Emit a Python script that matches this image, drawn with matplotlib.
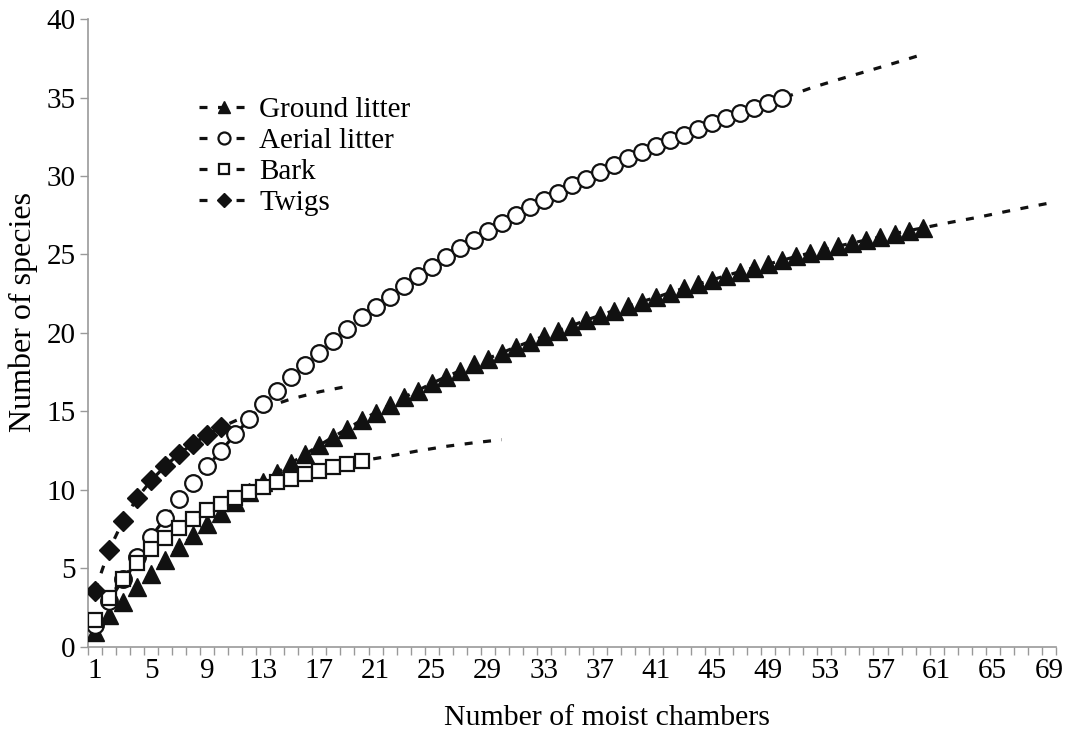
import matplotlib
matplotlib.use("Agg")
import matplotlib.pyplot as plt
from matplotlib.lines import Line2D
import numpy as np

# observed accumulation values (number of moist chambers = 1..n)
ground_litter = [0.92, 2.0, 2.87, 3.78, 4.67, 5.52, 6.33, 7.1, 7.82, 8.54,
                 9.24, 9.87, 10.51, 11.1, 11.72, 12.27, 12.85, 13.38, 13.91, 14.44,
                 14.93, 15.42, 15.89, 16.33, 16.78, 17.2, 17.58, 17.99, 18.37, 18.73,
                 19.11, 19.45, 19.79, 20.13, 20.47, 20.81, 21.12, 21.43, 21.7, 22.0,
                 22.27, 22.57, 22.85, 23.12, 23.38, 23.66, 23.91, 24.16, 24.39, 24.63,
                 24.88, 25.1, 25.31, 25.54, 25.73, 25.93, 26.11, 26.33, 26.52, 26.69]
aerial_litter = [1.4, 2.9, 4.3, 5.7, 7.0, 8.2, 9.4, 10.45, 11.5, 12.5,
                 13.55, 14.5, 15.45, 16.3, 17.2, 17.96, 18.75, 19.5, 20.25, 21.0,
                 21.66, 22.32, 23.0, 23.63, 24.23, 24.82, 25.39, 25.95, 26.48, 27.0,
                 27.5, 28.0, 28.45, 28.94, 29.41, 29.83, 30.25, 30.7, 31.13, 31.53,
                 31.91, 32.27, 32.64, 33.02, 33.38, 33.69, 34.01, 34.33, 34.65, 34.95]
bark = [1.7, 3.12, 4.35, 5.35, 6.22, 6.92, 7.56, 8.15, 8.69, 9.11,
        9.51, 9.85, 10.19, 10.49, 10.72, 10.98, 11.21, 11.45, 11.66, 11.85]
twigs = [3.57, 6.16, 8.03, 9.47, 10.6, 11.51, 12.3, 12.95, 13.5, 14.0]

# extrapolated part of each curve (dashed)
ground_ext_x = [62, 64, 66, 68, 69]
ground_ext_y = [27.05, 27.38, 27.75, 28.1, 28.27]
aerial_ext_x = [52, 54, 56, 58, 60]
aerial_ext_y = [35.6, 36.15, 36.67, 37.2, 37.75]
bark_ext_x = [22, 24, 26, 28, 30]
bark_ext_y = [12.15, 12.48, 12.77, 13.0, 13.2]
twigs_ext_x = [11, 13, 15, 17, 19]
twigs_ext_y = [14.4, 15.2, 15.8, 16.25, 16.6]

xtick_labels = list(range(1, 70, 4))

plt.rcParams['font.family'] = ['Liberation Serif', 'DejaVu Serif']

fig = plt.figure(figsize=(10.73, 7.35), dpi=100)
ax = fig.add_axes([0.082, 0.12, 0.902, 0.854])

DASH = (0, (2.5, 3.3))
LW = 2.3

series = [
    ("Ground litter", ground_litter, ground_ext_x, ground_ext_y,
     dict(marker="^", markersize=12.5, markerfacecolor="#111111", markeredgecolor="#111111")),
    ("Aerial litter", aerial_litter, aerial_ext_x, aerial_ext_y,
     dict(marker="o", markersize=12, markerfacecolor="white", markeredgecolor="#111111", markeredgewidth=1.6)),
    ("Bark", bark, bark_ext_x, bark_ext_y,
     dict(marker="s", markersize=10.5, markerfacecolor="white", markeredgecolor="#111111", markeredgewidth=1.6)),
    ("Twigs", twigs, twigs_ext_x, twigs_ext_y,
     dict(marker="D", markersize=10, markerfacecolor="#111111", markeredgecolor="#111111")),
]

handles = []
for name, vals, ex, ey, mk in series:
    x = np.arange(1, len(vals) + 1)
    tx = list(x) + ex
    ty = list(vals) + ey
    ax.plot(tx, ty, color="#111111", lw=LW, linestyle=DASH, zorder=2)
    ax.plot(x, vals, linestyle="none", zorder=3, **mk)
    small = dict(mk)
    small["markersize"] = mk["markersize"] * 0.72
    handles.append(Line2D([], [], color="#111111", lw=LW, linestyle=DASH,
                          label=name, **small))

ax.set_xlim(0.5, 69.5)
ax.set_ylim(0, 40)
ax.set_yticks(range(0, 41, 5))
ax.set_xticks(np.arange(0.5, 70, 1))
ax.set_xticklabels([])
ax.set_xticks(xtick_labels, minor=True)
ax.set_xticklabels([str(v) for v in xtick_labels], minor=True)
ax.tick_params(axis="x", which="major", length=6, color="#999999", width=1)
ax.tick_params(axis="x", which="minor", length=0, labelsize=21, pad=8)
ax.tick_params(axis="y", length=6, color="#999999", width=1, labelsize=21, pad=3)

for s in ["top", "right"]:
    ax.spines[s].set_visible(False)
for s in ["left", "bottom"]:
    ax.spines[s].set_color("#999999")
    ax.spines[s].set_linewidth(1.2)

ax.set_xlabel("Number of moist chambers", fontsize=21.5)
ax.xaxis.set_label_coords(0.536, -0.092)
ax.set_ylabel("Number of species", fontsize=23)
ax.yaxis.set_label_coords(-0.052, 0.533)

leg = ax.legend(handles=handles, loc="upper left", bbox_to_anchor=(0.1, 0.9),
                frameon=False, fontsize=21, handlelength=1.7, handletextpad=0.35,
                labelspacing=0.16, borderpad=0)

fig.savefig("out.png", dpi=100)
